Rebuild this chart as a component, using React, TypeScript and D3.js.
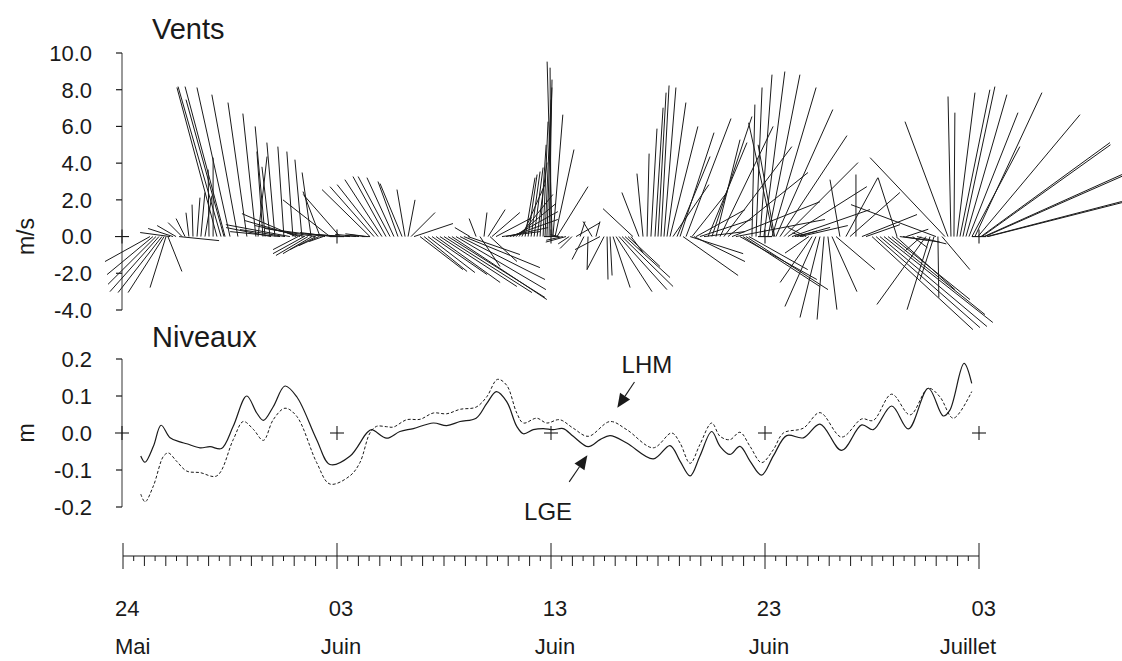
import * as d3 from "d3";

// days counted from 24 May, 00h
const dayTicks = [0, 10, 20, 30, 40];
const dayLabels = ["24", "03", "13", "23", "03"];
const monthLabels = ["Mai", "Juin", "Juin", "Juin", "Juillet"];

const windTicks = [10, 8, 6, 4, 2, 0, -2, -4];
const levelTicks = [0.2, 0.1, 0, -0.1, -0.2];

// LGE (solid) water level, m
const lgeDays = [0.83, 1.03, 1.42, 1.78, 2.2, 2.66, 2.98, 3.6, 4.07, 4.6, 5.15, 5.78, 6.25, 6.56, 7.02, 7.57, 8.12, 9.05, 9.67, 10.6, 11.39, 11.62, 12.32, 12.94, 13.57, 14.5, 15.13, 15.75, 16.5, 17.0, 17.45, 17.93, 18.4, 18.71, 19.17, 19.64, 20.1, 20.57, 21.04, 21.74, 22.29, 22.76, 23.54, 24.78, 25.56, 26.03, 26.5, 26.96, 27.51, 27.9, 28.36, 28.83, 29.3, 29.84, 30.39, 31.01, 31.79, 32.57, 33.58, 34.52, 35.06, 35.92, 36.7, 37.63, 38.33, 38.64, 39.3, 39.66];
const lgeLevels = [-0.062, -0.079, -0.036, 0.021, -0.013, -0.024, -0.029, -0.04, -0.037, -0.042, 0.018, 0.1, 0.054, 0.034, 0.071, 0.127, 0.098, -0.018, -0.085, -0.063, 0.0, 0.009, -0.014, 0.004, 0.012, 0.027, 0.02, 0.031, 0.04, 0.08, 0.112, 0.085, 0.018, -0.002, 0.009, 0.012, 0.009, 0.012, -0.009, -0.037, -0.018, -0.007, -0.027, -0.07, -0.034, -0.076, -0.116, -0.062, 0.004, -0.036, -0.058, -0.036, -0.076, -0.114, -0.062, -0.007, -0.013, 0.024, -0.047, 0.022, 0.009, 0.073, 0.011, 0.121, 0.046, 0.062, 0.188, 0.134];

// LHM (dashed) water level, m
const lhmDays = [0.83, 1.03, 1.42, 1.89, 2.12, 2.5, 2.98, 3.6, 4.38, 5.15, 5.62, 6.09, 6.56, 7.02, 7.57, 8.12, 9.05, 9.67, 10.6, 11.07, 11.54, 11.85, 12.32, 12.63, 13.26, 13.88, 14.5, 15.13, 15.75, 16.5, 17.0, 17.5, 17.93, 18.4, 18.71, 19.33, 19.8, 20.4, 21.04, 21.74, 22.76, 23.54, 24.78, 25.64, 26.03, 26.5, 26.96, 27.51, 27.9, 28.36, 28.83, 29.3, 29.84, 30.39, 30.86, 31.79, 32.57, 33.58, 34.52, 35.06, 35.92, 36.78, 37.63, 38.17, 38.8, 39.66];
const lhmLevels = [-0.165, -0.186, -0.143, -0.063, -0.054, -0.076, -0.103, -0.107, -0.116, -0.018, 0.031, 0.01, -0.02, 0.036, 0.067, 0.045, -0.08, -0.138, -0.116, -0.08, 0.0, 0.018, 0.017, 0.016, 0.036, 0.037, 0.054, 0.052, 0.064, 0.07, 0.098, 0.145, 0.129, 0.054, 0.027, 0.04, 0.027, 0.036, 0.013, -0.009, 0.031, 0.009, -0.04, 0.0, -0.027, -0.082, -0.031, 0.027, -0.009, -0.018, 0.002, -0.036, -0.08, -0.045, 0.0, 0.013, 0.055, -0.011, 0.038, 0.034, 0.105, 0.049, 0.121, 0.098, 0.04, 0.112];

// wind observations: [day, u (m/s, east), v (m/s, north)]
const windSticks: [number, number, number][] = [
  [1.26, -2.45, -1.36], [1.4, -2.5, -2.07], [1.54, -2.61, -2.6], [1.68, -2.67, -3.0],
  [1.82, -2.39, -3.05], [1.92, -1.96, -3.05], [2.01, -0.87, -2.78], [2.1, 0.76, -1.9],
  [2.2, -1.63, 0.22], [2.34, -1.36, 0.44], [2.48, -1.03, 0.6], [2.62, 2.18, -0.22],
  [2.76, -0.76, 0.76], [2.9, -0.49, 0.98], [3.08, -0.16, 1.3], [3.27, -0.05, 1.74],
  [3.46, 0.16, 2.12], [3.64, 0.22, 2.4], [3.83, 0.38, 2.23], [4.02, -0.05, 3.65],
  [4.21, 0.0, 4.3], [4.39, -2.18, 8.12], [4.58, -2.34, 8.17], [4.72, -2.07, 7.46],
  [4.77, -2.18, 8.17], [5.0, -1.8, 8.12], [5.37, -1.42, 7.73], [5.79, -1.03, 7.3],
  [6.21, -0.71, 6.7], [6.31, 0.49, 4.36], [6.54, -0.33, 4.63], [6.64, -0.54, 6.0],
  [6.87, -0.44, 3.8], [6.92, -2.45, 0.49], [7.1, -0.44, 5.12], [7.34, -2.72, 0.27],
  [7.52, -0.33, 4.9], [7.57, -2.45, 0.38], [7.8, -3.49, 0.65], [7.94, -0.33, 4.63],
  [8.08, -2.94, 1.25], [8.18, -1.36, -0.71], [8.27, -3.0, 0.87], [8.36, -0.38, 4.19],
  [8.46, -1.69, -0.93], [8.5, -2.72, 0.6], [8.64, -1.74, -1.03], [8.79, -0.49, 3.49],
  [8.83, -1.58, -0.93], [8.97, -2.72, 0.44], [9.02, -1.42, -0.71], [9.16, -1.09, -0.49],
  [9.21, -0.93, 2.45], [9.35, -0.76, -0.27], [9.44, -2.45, 0.33], [9.67, -2.56, 2.0],
  [9.77, -1.74, 0.22], [10.05, -1.8, 0.16], [10.14, -2.0, 2.29], [10.33, -1.42, 0.11],
  [10.61, -1.09, 0.05], [10.89, -0.6, 0.05], [11.03, -1.3, 0.12], [11.17, 0.44, 0.0],
  [11.3, -0.8, 0.1], [11.42, -1.2, 0.15], [11.54, -2.61, 2.56],
  [11.73, -2.4, 2.72], [11.92, -2.23, 2.83], [12.1, -2.02, 3.1], [12.29, -1.8, 3.27],
  [12.48, -1.74, 3.27], [12.66, -1.47, 3.21], [12.85, -1.09, 3.0], [13.04, -1.2, 2.89],
  [13.18, -0.44, 2.56], [13.32, 0.38, 2.0], [13.46, 1.31, 1.31], [13.6, 2.12, 0.71],
  [13.88, 2.34, -1.8], [14.07, 2.34, -1.9], [14.25, 2.56, -1.96], [14.44, 3.0, -2.07],
  [14.63, 3.49, -2.5], [14.81, 4.19, -2.72], [15.0, 4.79, -3.05], [15.19, 5.28, -3.32],
  [15.37, 5.17, -3.43], [15.56, 4.9, -2.89], [15.75, 4.63, -2.34], [15.93, 4.14, -1.69],
  [16.12, 2.83, -0.98], [16.21, -0.82, 0.49], [16.5, -0.38, 0.98], [16.68, 1.09, -1.63],
  [16.87, 0.16, 1.31], [17.06, 0.93, 1.47], [17.15, 1.47, -1.36], [17.24, 1.52, 1.31],
  [17.43, 1.96, 1.03], [17.71, 2.07, 0.27], [17.9, 2.29, 0.49], [18.08, 2.61, 0.93],
  [18.22, 2.45, 1.36], [18.36, 2.18, 1.8], [18.5, 1.85, 2.29], [18.64, 1.25, 2.83],
  [18.79, 0.54, 3.21], [18.93, 0.49, 3.38], [19.07, 0.49, 3.54], [19.21, 0.49, 3.76],
  [19.35, 0.54, 4.03], [19.49, 0.33, 5.0], [19.63, 0.27, 6.26], [19.72, 0.33, 7.46],
  [19.81, 0.27, 8.12], [19.91, 0.16, 8.55], [20.0, -0.05, 9.2], [20.05, -0.27, 9.53],
  [20.09, 0.54, 6.64], [20.19, 1.03, 4.74], [20.28, 1.69, 2.72], [20.4, -0.5, 0.1],
  [20.55, -0.9, -0.2], [20.7, -1.1, -0.3], [20.85, -0.6, -0.4], [20.98, -0.65, -0.65],
  [21.17, 1.31, 0.76], [21.36, 0.27, 0.82], [21.54, -0.65, -1.25], [21.73, -0.05, -1.8],
  [21.92, -0.49, 0.82], [22.1, 0.22, 0.82], [22.29, -1.36, -0.71], [22.48, -0.93, -1.8],
  [22.62, 0.05, -2.34], [22.76, 0.11, -2.12], [22.9, 0.93, -2.78], [23.04, 1.96, -3.0],
  [23.18, 2.61, -2.89], [23.32, 2.78, -2.72], [23.46, 2.45, -2.23], [23.6, 1.74, -1.63],
  [23.74, 0.65, -0.87], [23.83, -1.63, 1.52], [24.11, -0.93, 2.4], [24.3, -0.33, 3.43],
  [24.49, 0.11, 4.52], [24.67, 0.33, 5.88], [24.86, 0.44, 7.02], [25.0, 0.44, 7.84],
  [25.14, 0.44, 8.23], [25.28, 0.65, 8.12], [25.42, 1.03, 7.3], [25.56, 1.52, 6.0],
  [25.7, 1.96, 2.83], [25.89, 1.8, 4.36], [26.03, 1.85, 5.66], [26.17, 3.0, -2.12],
  [26.31, 2.45, 6.43], [26.5, 2.89, -0.93], [26.59, 1.9, 2.4], [26.68, 2.78, -1.36],
  [26.78, 2.67, 1.47], [26.96, 2.83, 0.93], [27.15, 2.23, 0.27], [27.34, 2.12, 5.12],
  [27.52, 2.18, 6.54], [27.71, 1.31, 5.28], [27.9, 2.89, 6.0], [28.08, 3.7, 4.9],
  [28.27, 4.36, 3.49], [28.46, 4.79, 1.9], [28.64, 4.85, 0.93], [28.83, 4.19, -2.34],
  [28.97, 4.19, -2.72], [29.11, 4.47, -2.89], [29.25, 3.2, -1.8], [29.39, 0.16, 7.19],
  [29.58, 0.33, 8.12], [29.77, 0.65, 8.82], [29.95, 1.14, 8.99], [30.14, 1.74, 8.82],
  [30.33, 2.4, 8.12], [30.4, -1.36, 6.2], [30.45, -0.9, 5.0], [30.51, 3.1, 6.92],
  [30.7, 3.65, 5.5], [30.89, 4.03, 4.03], [31.07, 4.3, 2.72], [31.26, 4.25, 1.47],
  [31.4, 1.2, 0.3], [31.5, 1.8, 0.5], [31.64, 2.6, 0.6], [31.8, -0.6, 0.2],
  [31.92, -1.0, 0.5], [32.05, -1.3, -0.9], [32.2, -1.74, -2.5], [32.38, -1.69, -3.81],
  [32.57, -1.09, -4.41], [32.76, -0.38, -4.52], [32.94, 0.49, -3.98], [33.13, 1.36, -3.0],
  [33.32, 2.12, -1.8], [33.5, -0.54, 3.1], [33.78, 1.74, 3.21], [33.97, 2.72, 2.4],
  [34.25, 0.0, 3.38], [34.53, 3.0, 1.2], [34.72, 1.85, 0.65], [35.0, 5.5, -5.07],
  [35.19, 5.66, -4.96], [35.37, 5.83, -4.9], [35.56, 5.93, -4.68], [35.75, 5.28, -4.25],
  [35.93, 4.25, -3.43], [36.12, 3.21, -2.89], [36.17, -1.03, 3.2], [36.3, 1.5, -0.2],
  [36.45, 2.0, -0.3], [36.6, 1.2, 0.4], [36.9, 0.8, -0.6], [37.1, 1.6, -0.4],
  [37.3, -0.9, -0.8], [37.52, -2.67, -3.7],
  [37.71, -1.25, -3.98], [37.9, -0.76, -2.34], [37.99, -4.63, 1.74], [38.08, 0.05, -3.32],
  [38.27, 1.52, -1.8], [38.41, -4.08, 4.3], [38.55, -2.34, 6.26], [38.69, -0.16, 7.63],
  [38.83, 0.05, 6.75], [38.97, 0.98, 7.84], [39.11, 1.63, 8.0], [39.25, 1.74, 8.17],
  [39.39, 2.23, 7.73], [39.53, 2.67, 6.75], [39.67, 2.61, 4.9], [39.81, 3.65, 7.84],
  [39.95, 5.56, 6.64], [40.09, 7.03, 5.12], [40.14, 7.0, 5.0], [40.23, 7.52, 3.38],
  [40.28, 7.5, 3.3], [40.37, 7.35, 1.91], [40.42, 7.3, 1.85],
];

const FONT = "'Liberation Sans', Arial, Helvetica, sans-serif";
const INK = "#1a1a1a";

function Cross({ cx, cy }: { cx: number; cy: number }) {
  return (
    <g stroke={INK} strokeWidth={1.1}>
      <line x1={cx - 7} x2={cx + 7} y1={cy} y2={cy} />
      <line x1={cx} x2={cx} y1={cy - 7} y2={cy + 7} />
    </g>
  );
}

function Arrow({ x1, y1, x2, y2 }: { x1: number; y1: number; x2: number; y2: number }) {
  const a = Math.atan2(y2 - y1, x2 - x1);
  const len = 14, half = 6;
  const bx = x2 - len * Math.cos(a), by = y2 - len * Math.sin(a);
  const px = -Math.sin(a) * half, py = Math.cos(a) * half;
  return (
    <g>
      <line x1={x1} y1={y1} x2={bx} y2={by} stroke={INK} strokeWidth={1.1} />
      <polygon points={`${x2},${y2} ${bx + px},${by + py} ${bx - px},${by - py}`} fill={INK} />
    </g>
  );
}

export default function App() {
  const W = 1122, H = 661;
  const axisX = 122;

  const x = d3.scaleLinear().domain([0, 40]).range([123, 979]);
  const yWind = d3.scaleLinear().domain([-4, 10]).range([310, 53]);
  const yLevel = d3.scaleLinear().domain([-0.2, 0.2]).range([507, 359]);
  const pxPerMs = yWind(0) - yWind(1);

  const line = d3.line<[number, number]>()
    .x(d => x(d[0]))
    .y(d => yLevel(d[1]))
    .curve(d3.curveCatmullRom.alpha(0.5));

  const lgePath = line(lgeDays.map((d, i) => [d, lgeLevels[i]] as [number, number])) || "";
  const lhmPath = line(lhmDays.map((d, i) => [d, lhmLevels[i]] as [number, number])) || "";

  const axisY = 556;
  const halfDays = d3.range(0, 40.001, 0.5);

  return (
    <div style={{ position: "absolute", left: 0, top: 0 }}>
      <svg width={W} height={H} style={{ display: "block", background: "#fff" }} fontFamily={FONT}>
        {/* titles */}
        <text x={152} y={39} fontSize={29} fill={INK}>Vents</text>
        <text x={152} y={347} fontSize={29} fill={INK}>Niveaux</text>
        <text transform={`translate(34,${yWind(0)}) rotate(-90)`} textAnchor="middle" fontSize={23} fill={INK}>m/s</text>
        <text transform={`translate(34,${yLevel(0)}) rotate(-90)`} textAnchor="middle" fontSize={23} fill={INK}>m</text>

        {/* wind axis */}
        <line x1={axisX} x2={axisX} y1={yWind(10)} y2={yWind(-4)} stroke="#555" strokeWidth={1.2} />
        {windTicks.map(t => (
          <g key={"w" + t}>
            {t === 0
              ? <Cross cx={axisX} cy={yWind(0)} />
              : <line x1={axisX - 6} x2={axisX} y1={yWind(t)} y2={yWind(t)} stroke={INK} strokeWidth={1.2} />}
            <text x={92} y={yWind(t)} dy="0.36em" textAnchor="end" fontSize={22} fill={INK}>{t.toFixed(1)}</text>
          </g>
        ))}

        {/* wind sticks */}
        <g stroke={INK} strokeWidth={1} strokeLinecap="butt">
          {windSticks.map(([t, u, v], i) => (
            <line key={i} x1={x(t)} y1={yWind(0)} x2={x(t) + u * pxPerMs} y2={yWind(v)} />
          ))}
        </g>
        {dayTicks.slice(1).map(t => <Cross key={"cw" + t} cx={x(t)} cy={yWind(0)} />)}

        {/* level axis */}
        <line x1={axisX} x2={axisX} y1={yLevel(0.2)} y2={yLevel(-0.2)} stroke="#555" strokeWidth={1.2} />
        {levelTicks.map(t => (
          <g key={"l" + t}>
            {t === 0
              ? <Cross cx={axisX} cy={yLevel(0)} />
              : <line x1={axisX - 6} x2={axisX} y1={yLevel(t)} y2={yLevel(t)} stroke={INK} strokeWidth={1.2} />}
            <text x={92} y={yLevel(t)} dy="0.36em" textAnchor="end" fontSize={22} fill={INK}>{t.toFixed(1)}</text>
          </g>
        ))}
        {dayTicks.slice(1).map(t => <Cross key={"cl" + t} cx={x(t)} cy={yLevel(0)} />)}

        <path d={lhmPath} fill="none" stroke={INK} strokeWidth={1} strokeDasharray="3,2" />
        <path d={lgePath} fill="none" stroke={INK} strokeWidth={1.2} />

        {/* annotations */}
        <text x={x(23.3)} y={yLevel(0.163)} fontSize={24} fill={INK}>LHM</text>
        <Arrow x1={x(23.9)} y1={yLevel(0.138)} x2={x(23.1)} y2={yLevel(0.068)} />
        <text x={x(18.74)} y={yLevel(-0.235)} fontSize={24} fill={INK}>LGE</text>
        <Arrow x1={x(20.85)} y1={yLevel(-0.132)} x2={x(21.7)} y2={yLevel(-0.06)} />

        {/* time axis */}
        <line x1={x(0)} x2={x(40)} y1={axisY} y2={axisY} stroke={INK} strokeWidth={1.2} />
        {halfDays.map(d => {
          const major = d % 10 === 0;
          const whole = d % 1 === 0;
          return (
            <line key={"t" + d} x1={x(d)} x2={x(d)}
              y1={major ? axisY - 13 : axisY}
              y2={major ? axisY + 13 : whole ? axisY + 10 : axisY + 5}
              stroke={INK} strokeWidth={1} />
          );
        })}
        {dayTicks.map((t, i) => {
          const last = i === dayTicks.length - 1;
          const anchor = i === 0 ? "start" : last ? "end" : "middle";
          const dx = i === 0 ? -8 : last ? 17 : 4;
          return (
            <g key={"lab" + i}>
              <text x={x(t) + dx} y={616} textAnchor={anchor} fontSize={22} fill={INK}>{dayLabels[i]}</text>
              <text x={x(t) + dx} y={654} textAnchor={anchor} fontSize={22} fill={INK}>{monthLabels[i]}</text>
            </g>
          );
        })}
      </svg>
    </div>
  );
}
